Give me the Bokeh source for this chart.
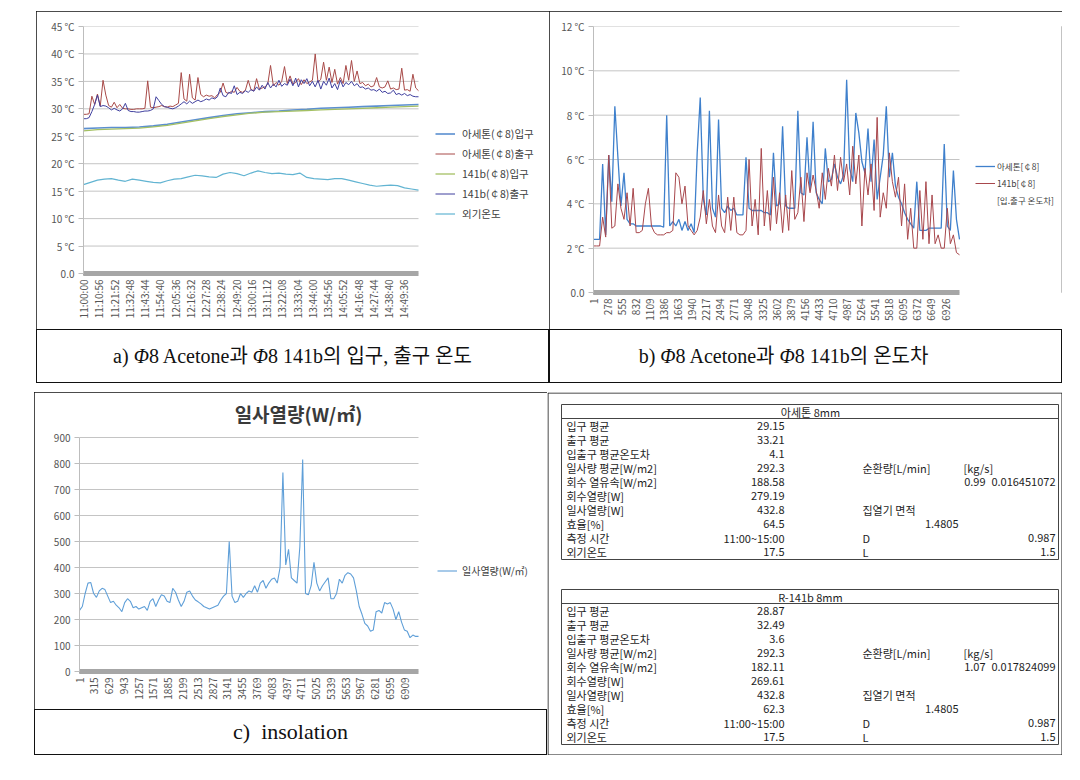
import math
from bokeh.plotting import figure
from bokeh.layouts import row, column
from bokeh.models import Range1d, FixedTicker, Legend, LegendItem, Spacer, Div, Label
from bokeh.core.properties import value
from bokeh.embed import file_html
from bokeh.resources import INLINE

KFONT = "Noto Sans CJK KR"
SERIF_CSS = "'Liberation Serif', 'Noto Sans CJK KR', serif"

# ---------------- chart a : inlet / outlet temperatures ----------------
a_tick_labels = ["11:00:00", "11:10:56", "11:21:52", "11:32:48", "11:43:44", "11:54:40",
                 "12:05:36", "12:16:32", "12:27:28", "12:38:24", "12:49:20", "13:00:16",
                 "13:11:12", "13:22:08", "13:33:04", "13:44:00", "13:54:56", "14:05:52",
                 "14:16:48", "14:27:44", "14:38:40", "14:49:36"]
a_tick_step_s = 656
a_x_end_s = 240 * 60
a_y_ticks = [0, 5, 10, 15, 20, 25, 30, 35, 40, 45]
a_y_labels = ["0.0", "5 ℃", "10 ℃", "15 ℃", "20 ℃", "25 ℃", "30 ℃", "35 ℃", "40 ℃", "45 ℃"]
a_names = ["아세톤(￠8)입구", "아세톤(￠8)출구", "141b(￠8)입구", "141b(￠8)출구", "외기온도"]
a_colors = ["#5b8fd0", "#a84a48", "#a4c063", "#3f3f9e", "#62b4d2"]

a_t_fast = list(range(0, 241, 2))     # minutes after 11:00
a_t_slow = list(range(0, 241, 10))
a_t_amb = list(range(0, 241, 5))

a_acetone_in = [26.4, 26.5, 26.6, 26.6, 26.7, 26.9, 27.2, 27.6, 28.0, 28.4, 28.8, 29.1, 29.3,
                29.5, 29.6, 29.8, 29.9, 30.1, 30.2, 30.3, 30.4, 30.5, 30.6, 30.7, 30.8]
a_141b_in = [26.0, 26.2, 26.3, 26.4, 26.5, 26.7, 27.0, 27.4, 27.8, 28.2, 28.6, 28.9, 29.2,
             29.4, 29.5, 29.6, 29.7, 29.8, 29.9, 30.0, 30.1, 30.2, 30.3, 30.4, 30.5]
a_acetone_out = [29.0, 29.0, 29.1, 32.3, 30.8, 32.7, 30.5, 35.2, 32.5, 30.6,
                 30.3, 31.2, 30.2, 30.8, 30.1, 30.0, 30.0, 29.9, 29.9, 30.0,
                 30.0, 30.0, 30.1, 35.1, 30.3, 30.2, 30.3, 30.4, 30.6, 30.4,
                 30.3, 30.5, 30.4, 30.7, 31.0, 36.6, 31.8, 31.4, 36.3, 32.0,
                 31.6, 35.7, 32.6, 32.2, 32.5, 32.3, 32.4, 32.0, 32.6, 33.0,
                 34.7, 33.0, 32.8, 33.2, 33.0, 33.9, 33.2, 33.0, 33.4, 35.2,
                 33.5, 33.3, 35.5, 33.6, 33.8, 34.0, 34.5, 37.9, 34.2, 34.8,
                 34.3, 35.0, 37.7, 34.6, 36.0, 34.5, 34.8, 35.5, 34.4, 35.3,
                 34.6, 34.9, 35.2, 40.0, 34.8, 35.4, 38.5, 35.2, 37.6, 34.8,
                 37.2, 34.5, 35.7, 34.6, 37.9, 35.2, 38.8, 35.0, 36.9, 34.6,
                 34.8, 34.2, 34.5, 34.0, 34.2, 35.7, 34.0, 33.8, 34.0, 35.1,
                 33.6, 33.8, 33.5, 33.6, 37.4, 33.4, 33.5, 33.2, 36.3, 33.8,
                 33.3]
a_141b_out = [28.2, 28.2, 28.4, 29.5, 30.8, 32.5, 30.4, 30.6, 30.5, 30.2,
              29.8, 30.1, 29.8, 29.6, 30.0, 31.0, 29.7, 29.5, 29.5, 29.4,
              29.4, 29.5, 29.6, 29.6, 29.7, 30.0, 32.2, 31.5, 30.8, 30.4,
              30.3, 30.1, 30.0, 30.2, 30.5, 30.9, 31.3, 30.9, 31.4, 31.0,
              31.3, 31.6, 31.3, 31.5, 31.8, 31.6, 32.0, 31.8, 32.2, 33.8,
              32.4, 32.2, 33.0, 32.8, 34.2, 32.6, 33.0, 32.8, 33.3, 33.0,
              33.5, 33.2, 34.0, 33.4, 34.3, 33.6, 34.8, 33.8, 34.5, 34.0,
              35.2, 34.1, 34.6, 34.3, 35.4, 34.2, 35.6, 34.0, 35.3, 34.6,
              35.5, 34.2, 35.0, 34.0, 35.2, 33.6, 35.0, 34.3, 35.6, 33.8,
              34.6, 33.5, 35.2, 34.0, 34.8, 34.4, 35.0, 34.2, 34.6, 33.9,
              34.0, 33.6, 33.8, 33.4, 33.5, 33.2, 33.6, 33.0, 33.2, 32.8,
              32.9, 33.4, 32.6, 32.8, 32.5, 32.8, 32.4, 32.6, 32.3, 32.2,
              32.2]
a_ambient = [16.2, 16.6, 17.0, 17.2, 17.3, 17.0, 16.8, 17.2, 17.0, 16.8,
             16.6, 16.5, 16.9, 17.2, 17.3, 17.6, 17.9, 17.8, 17.6, 17.5,
             18.1, 18.4, 18.2, 17.8, 18.3, 18.7, 18.4, 18.2, 18.3, 18.1,
             18.0, 18.3, 17.5, 17.3, 17.2, 17.1, 17.3, 17.3, 17.0, 16.7,
             16.4, 16.1, 15.9, 16.0, 16.1, 16.0, 15.6, 15.4, 15.2]

# ---------------- chart b : temperature difference ----------------
b_ticks = [1, 278, 555, 832, 1109, 1386, 1663, 1940, 2217, 2494, 2771, 3048, 3325,
           3602, 3879, 4156, 4433, 4710, 4987, 5264, 5541, 5818, 6095, 6372, 6649, 6926]
b_x_end = 7200
b_y_ticks = [0, 2, 4, 6, 8, 10, 12]
b_y_labels = ["0.0", "2 ℃", "4 ℃", "6 ℃", "8 ℃", "10 ℃", "12 ℃"]
b_names = ["아세톤[￠8]", "141b[￠8]"]
b_note = "[입.출구 온도차]"
b_colors = ["#3f80cc", "#a8474c"]
b_idx = list(range(0, 7201, 60))
b_acetone = [2.4, 2.4, 2.4, 5.8, 2.6, 6.2, 4.1, 8.4, 6.1, 3.9,
             5.4, 3.3, 3.1, 3.1, 3.0, 3.0, 3.0, 3.0, 3.0, 3.0,
             3.0, 3.0, 3.0, 2.95, 8.0, 3.0, 3.2, 3.0, 3.3, 2.8,
             3.2, 2.8, 3.1, 2.7, 6.3, 8.8, 4.2, 3.5, 8.2, 3.8,
             3.4, 7.8, 3.8, 3.6, 3.9, 3.7, 3.8, 3.5, 3.5, 3.5,
             6.1, 3.8, 3.7, 3.7, 3.7, 3.7, 3.6, 3.6, 3.5, 6.3,
             3.9, 4.0, 7.5, 3.9, 3.8, 3.8, 3.8, 8.2, 4.5, 4.4,
             7.0, 4.6, 7.7, 4.5, 4.2, 4.0, 6.5, 5.0, 5.1, 5.8,
             5.2, 4.9, 5.3, 9.6, 5.6, 5.0, 8.1, 7.2, 5.9, 5.4,
             7.4, 5.0, 6.9, 4.2, 5.2, 6.2, 8.4, 5.2, 6.3, 4.8,
             4.3, 4.0, 3.6, 3.3, 3.1, 2.9, 5.0, 2.8, 2.8, 2.8,
             2.9, 2.9, 2.9, 2.9, 2.9, 6.7, 3.0, 2.8, 5.5, 3.3,
             2.4]
b_141b = [2.1, 2.1, 2.1, 3.4, 2.5, 6.2, 2.9, 3.0, 4.9, 3.8,
          3.3, 4.5, 3.0, 4.7, 2.7, 2.7, 2.8, 4.0, 4.7, 3.0,
          2.7, 2.6, 2.6, 2.6, 2.7, 2.7, 2.8, 5.4, 5.2, 4.0,
          4.8, 3.0, 2.8, 2.6, 2.8, 3.4, 4.6, 3.1, 4.2, 3.0,
          2.7, 4.4, 3.0, 2.7, 4.3, 2.8, 4.3, 2.7, 2.6, 2.6,
          2.8, 6.0, 3.0, 4.2, 2.6, 6.5, 3.0, 4.6, 2.8, 5.2,
          3.1, 4.5, 2.7, 4.4, 2.8, 5.5, 3.3, 3.6, 5.2, 3.2,
          5.4, 4.5, 5.3, 4.6, 3.8, 5.4, 4.2, 5.6, 4.8, 6.2,
          4.6, 6.1, 5.0, 5.8, 4.4, 6.6, 4.9, 6.2, 3.0, 5.6,
          4.4, 5.8, 3.7, 7.9, 3.4, 4.5, 3.8, 6.3, 5.0, 4.3,
          5.2, 3.0, 4.9, 2.4, 3.8, 2.0, 2.0, 4.6, 2.4, 5.0,
          2.2, 4.4, 2.2, 2.6, 2.0, 2.0, 3.8, 2.2, 2.6, 1.8,
          1.7]

# ---------------- chart c : insolation ----------------
c_title = "일사열량(W/㎡)"
c_name = "일사열량(W/㎡)"
c_color = "#5f9fd8"
c_ticks = [1, 315, 629, 943, 1257, 1571, 1885, 2199, 2513, 2827, 3141, 3455, 3769,
           4083, 4397, 4711, 5025, 5339, 5653, 5967, 6281, 6595, 6909]
c_x_end = 7200
c_y_max = 900
c_y_ticks = [0, 100, 200, 300, 400, 500, 600, 700, 800, 900]
c_idx = list(range(0, 7201, 60))
c_insolation = [235, 250, 300, 340, 342, 300, 285, 310, 320, 315,
                290, 265, 270, 255, 245, 230, 265, 280, 270, 245,
                250, 240, 245, 250, 235, 270, 280, 250, 275, 295,
                290, 270, 265, 320, 305, 275, 250, 270, 305, 310,
                290, 275, 268, 260, 250, 245, 240, 245, 250, 255,
                275, 290, 300, 500, 290, 265, 270, 300, 285, 300,
                310, 305, 330, 305, 340, 350, 320, 340, 355, 360,
                340, 400, 765, 410, 470, 360, 350, 340, 480, 815,
                300, 295, 330, 420, 340, 310, 330, 345, 360, 280,
                280, 300, 355, 340, 370, 380, 375, 360, 310, 250,
                220, 185, 175, 155, 160, 230, 235, 225, 265, 260,
                265, 240, 200, 230, 190, 160, 155, 130, 140, 135,
                135]

# ---------------- captions ----------------
cap_a = "a)&nbsp; <i>Φ</i>8 Acetone과&nbsp; <i>Φ</i>8 141b의 입구, 출구 온도"
cap_b = "b)&nbsp; <i>Φ</i>8 Acetone과&nbsp; <i>Φ</i>8 141b의 온도차"
cap_c = "c)&nbsp; insolation"

# ---------------- tables ----------------
tbl_row_labels = ["입구 평균", "출구 평균", "입출구 평균온도차", "일사량 평균[W/m2]", "회수 열유속[W/m2]",
                  "회수열량[W]", "일사열량[W]", "효율[%]", "측정 시간", "외기온도"]
tbl1_title = "아세톤 8mm"
tbl1_vals = ["29.15", "33.21", "4.1", "292.3", "188.58", "279.19", "432.8", "64.5", "11:00~15:00", "17.5"]
tbl1_flow = ["0.99", "0.016451072"]
tbl2_title = "R-141b 8mm"
tbl2_vals = ["28.87", "32.49", "3.6", "292.3", "182.11", "269.61", "432.8", "62.3", "11:00~15:00", "17.5"]
tbl2_flow = ["1.07", "0.017824099"]
tbl_flow_head = ["순환량[L/min]", "[kg/s]"]
tbl_area_head = "집열기 면적"
tbl_area = "1.4805"
tbl_dims = [("D", "0.987"), ("L", "1.5")]


def make_chart(w, h, left, top, bottom, x_data_end, data_px, y_max, y_ticks, right=2,
               data_py=None):
    """Frame runs to the right edge (and optionally to the top) so that the legend / title
    drawn inside the frame are not clipped; the data area occupies `data_px` x `data_py`."""
    frame_w = w - left - right
    frame_h = h - top - bottom
    x_end = x_data_end * frame_w / data_px
    y_end = y_max if data_py is None else y_max * frame_h / data_py
    p = figure(width=w, height=h, x_range=Range1d(0, x_end), y_range=Range1d(0, y_end),
               output_backend="svg", toolbar_location=None,
               min_border_left=left, min_border_right=right,
               min_border_top=top, min_border_bottom=bottom,
               styles={"outline": "1px solid #111", "outline-offset": "-1px"})
    p.outline_line_color = None
    p.xgrid.visible = False
    p.ygrid.visible = False
    p.segment(x0=[0] * len(y_ticks), y0=y_ticks, x1=[x_data_end] * len(y_ticks), y1=y_ticks,
              line_color="#c4c4c4", line_width=1, level="underlay")
    p.yaxis.ticker = FixedTicker(ticks=y_ticks)
    p.yaxis.bounds = (0, y_max)
    p.yaxis.axis_line_color = "#bdbdbd"
    p.yaxis.major_tick_line_color = "#bdbdbd"
    p.yaxis.major_tick_out = 5
    p.yaxis.major_tick_in = 0
    p.yaxis.minor_tick_line_color = None
    p.xaxis.bounds = (0, x_data_end)
    p.xaxis.axis_line_color = "#a6a6a6"
    p.xaxis.axis_line_width = 5
    p.xaxis.major_tick_line_color = "#a6a6a6"
    p.xaxis.major_tick_out = 2
    p.xaxis.major_tick_in = 0
    p.xaxis.minor_tick_line_color = None
    p.xaxis.major_label_orientation = math.pi / 2
    p.xaxis.major_label_standoff = 4
    p.yaxis.major_label_standoff = 4
    for ax in (p.xaxis, p.yaxis):
        ax.major_label_text_font = KFONT
        ax.major_label_text_color = "#555555"
        ax.major_label_text_font_size = "10px"
    return p


def make_legend(items, loc, gh, standoff, size):
    return Legend(items=items, location=loc, padding=0, margin=0, spacing=3,
                  glyph_width=20, glyph_height=gh, label_height=gh, label_standoff=standoff,
                  label_text_font=KFONT, label_text_font_size=size, label_text_color="#404040",
                  border_line_color=None, background_fill_alpha=0)


def caption_div(html, w, h, size, pad_right=0):
    style = ("width:%dpx;height:%dpx;box-sizing:border-box;border:1px solid #111;"
             "display:flex;align-items:center;justify-content:center;padding-right:%dpx;"
             "font-family:%s;font-size:%dpx;color:#111;white-space:nowrap;background:#fff;"
             % (w, h, pad_right, SERIF_CSS, size))
    return Div(text='<div style="%s">%s</div>' % (style, html), width=w, height=h,
               margin=(0, 0, 0, 0))


# ---- chart a ----
pa = make_chart(513, 318, 47, 15, 56, a_x_end_s, 335, 45, a_y_ticks)
a_xt = [i * a_tick_step_s for i in range(len(a_tick_labels))]
pa.xaxis.ticker = FixedTicker(ticks=a_xt)
pa.xaxis.major_label_overrides = {t: lab for t, lab in zip(a_xt, a_tick_labels)}
pa.yaxis.major_label_overrides = {t: lab for t, lab in zip(a_y_ticks, a_y_labels)}
ra_amb = pa.line([t * 60 for t in a_t_amb], a_ambient, line_color=a_colors[4], line_width=1.2)
ra1 = pa.line([t * 60 for t in a_t_slow], a_acetone_in, line_color=a_colors[0], line_width=1.6)
ra3 = pa.line([t * 60 for t in a_t_slow], a_141b_in, line_color=a_colors[2], line_width=1.3)
ra2 = pa.line([t * 60 for t in a_t_fast], a_acetone_out, line_color=a_colors[1], line_width=1)
ra4 = pa.line([t * 60 for t in a_t_fast], a_141b_out, line_color=a_colors[3], line_width=1)
pa.add_layout(make_legend([LegendItem(label=n, renderers=[r]) for n, r in
                           zip(a_names, [ra1, ra2, ra3, ra4, ra_amb])],
                          (352, 51), 17, 7, "10.5px"))

# ---- chart b ----
pb = make_chart(513, 318, 44, 15, 37, b_x_end, 366, 12, b_y_ticks, right=1)
pb.xaxis.ticker = FixedTicker(ticks=b_ticks)
pb.yaxis.major_label_overrides = {t: lab for t, lab in zip(b_y_ticks, b_y_labels)}
rb1 = pb.line(b_idx, b_acetone, line_color=b_colors[0], line_width=1.3)
rb2 = pb.line(b_idx, b_141b, line_color=b_colors[1], line_width=1)
rb_note = pb.line([], [], line_alpha=0)
pb.add_layout(make_legend([LegendItem(label=b_names[0], renderers=[rb1]),
                           LegendItem(label=b_names[1], renderers=[rb2]),
                           LegendItem(label=b_note, renderers=[rb_note])],
                          (382, 85), 14, 2, "8.5px"))

# ---- chart c ----
pc = make_chart(513, 317, 45, 2, 38, c_x_end, 339, c_y_max, c_y_ticks, data_py=234)
pc.xaxis.ticker = FixedTicker(ticks=c_ticks)
rc = pc.line(c_idx, c_insolation, line_color=c_color, line_width=1.1)
pc.add_layout(make_legend([LegendItem(label=c_name, renderers=[rc])], (358, 92), 17, 5, "10px"))
pc.add_layout(Label(x=219, y=258, x_units="screen", y_units="screen", text=c_title,
                    text_font=KFONT, text_font_size="19px", text_font_style="bold",
                    text_color="#3a3a3a", text_align="center", text_baseline="middle"))

# ---- captions ----
ca = caption_div(cap_a, 513, 54, 20)
cb = caption_div(cap_b, 513, 54, 20, pad_right=44)
cc = caption_div(cap_c, 513, 46, 22)

# ---- tables ----
pd_ = figure(width=515, height=363, x_range=Range1d(0, 515), y_range=Range1d(363, 0),
             output_backend="svg", toolbar_location=None, min_border=0,
             x_axis_type=None, y_axis_type=None)
pd_.outline_line_color = None
pd_.quad(left=[0.5], right=[514.5], top=[0.5], bottom=[362.5],
         fill_color=None, line_color="#111111", line_width=1)


def draw_table(p, top, title, vals, flow):
    hh, rh = 14, 14.1
    n = len(tbl_row_labels)
    bottom = top + hh + rh * n
    p.quad(left=[14], right=[511], top=[top], bottom=[bottom], fill_color=None,
           line_color="#444444", line_width=1)
    p.segment(x0=[14], y0=[top + hh], x1=[511], y1=[top + hh], line_color="#444444", line_width=1)
    ys = [top + hh + rh * i + rh / 2 for i in range(n)]
    kw = dict(text_baseline="middle", text_font=value(KFONT), text_font_size="11px", text_color="#1e1e1e")
    p.text(x=[263], y=[top + hh / 2], text=[title], text_align="center", **kw)
    p.text(x=[19] * n, y=ys, text=tbl_row_labels, text_align="left", **kw)
    p.text(x=[237] * n, y=ys, text=vals, text_align="right", **kw)
    p.text(x=[315, 416, 315, 315, 315], y=[ys[3], ys[3], ys[6], ys[8], ys[9]],
           text=[tbl_flow_head[0], tbl_flow_head[1], tbl_area_head, tbl_dims[0][0], tbl_dims[1][0]],
           text_align="left", **kw)
    p.text(x=[438, 508, 411, 508, 508], y=[ys[4], ys[4], ys[7], ys[8], ys[9]],
           text=[flow[0], flow[1], tbl_area, tbl_dims[0][1], tbl_dims[1][1]],
           text_align="right", **kw)


draw_table(pd_, 12, tbl1_title, tbl1_vals, tbl1_flow)
draw_table(pd_, 197, tbl2_title, tbl2_vals, tbl2_flow)

top_row = row(Spacer(width=36, height=372), column(pa, ca), column(pb, cb))
bottom_row = row(Spacer(width=34, height=363), column(pc, cc), pd_)
layout = column(Spacer(width=100, height=11), top_row, Spacer(width=100, height=9), bottom_row)

open("out.html", "w").write(file_html(layout, INLINE, title="Acetone vs 141b"))
